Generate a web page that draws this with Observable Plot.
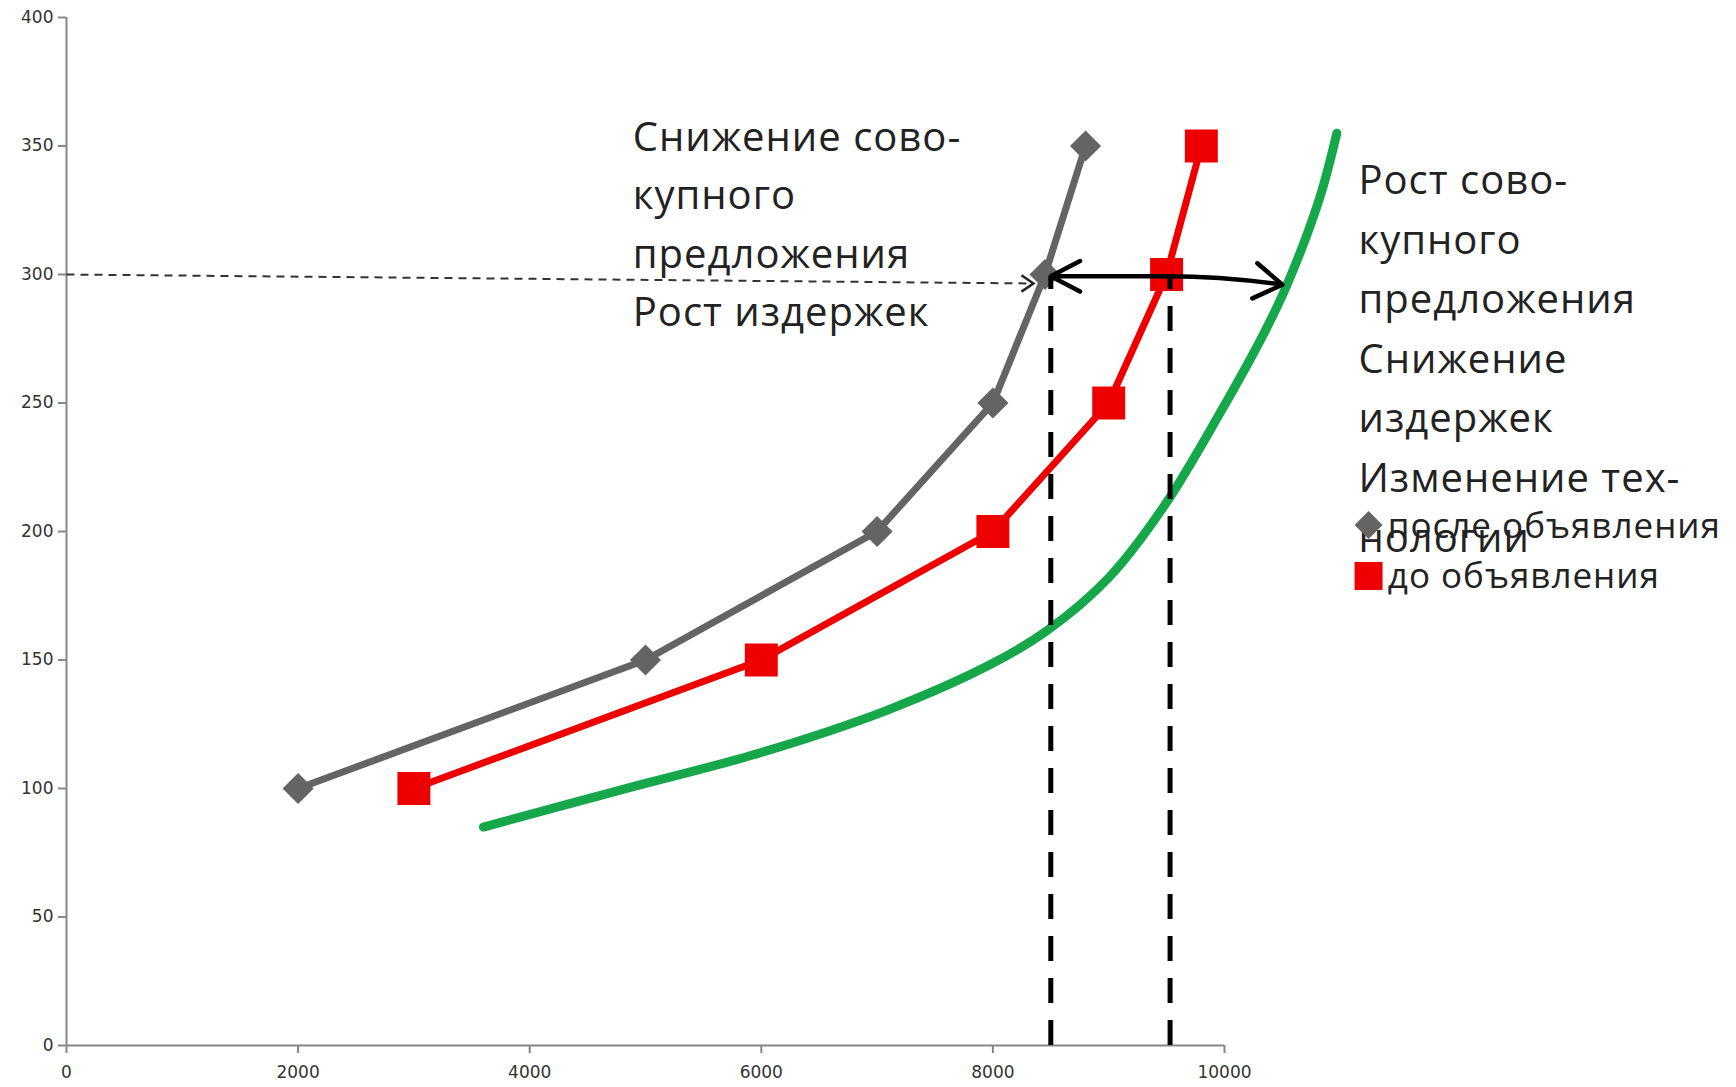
<!DOCTYPE html>
<html>
<head>
<meta charset="utf-8">
<script src="https://cdn.jsdelivr.net/npm/d3@7"></script>
<script src="https://cdn.jsdelivr.net/npm/@observablehq/plot@0.6"></script>
<style>
  html, body { margin: 0; padding: 0; background: #fff; }
  #chart { width: 1736px; height: 1087px; }
</style>
</head>
<body>
<div id="chart"></div>
<script>
// ---- data ----
const xTicks = [0, 2000, 4000, 6000, 8000, 10000];
const yTicks = [0, 50, 100, 150, 200, 250, 300, 350, 400];

const seriesNames = ["после объявления", "до объявления"];

// "после объявления" (grey diamonds)
const afterX = [2000, 5000, 7000, 8000, 8450, 8800];
const afterY = [100, 150, 200, 250, 300, 350];

// "до объявления" (red squares)
const beforeX = [3000, 6000, 8000, 9000, 9500, 9800];
const beforeY = [100, 150, 200, 250, 300, 350];

// green curve (new aggregate supply)
const greenX = [3600, 4790, 6000, 7090, 7990, 8470, 9000, 9480, 9960, 10345, 10540, 10820, 10970];
const greenY = [85, 99.5, 114, 130.5, 148.5, 161.5, 182, 210, 246, 277.5, 296, 329.5, 355];

// guides
const guideX = [8500, 9530];           // vertical dashed lines
const guideTop = 299;
const dashedFrom = [0, 300];           // horizontal dashed arrow start
const dashedTo = [8350, 296.5];        // horizontal dashed arrow tip
const shiftMid = [9500, 299.3];        // double arrow middle
const shiftLeft = [8500, 299.3];
const shiftRight = [10500, 296];

// texts
const leftNote = ["Снижение сово-", "купного", "предложения", "Рост издержек"];
const rightNote = ["Рост сово-", "купного", "предложения", "Снижение", "издержек", "Изменение тех-", "нологии"];
const leftNotePos = [4890, 280];
const rightNotePos = [11157, 192.2];
const legendMarkX = 11244;
const legendTextX = 11410;
const legendY = [202.5, 182.7];
const legendTextY = [197.5, 178];

// ---- build ----
const after = afterX.map((x, i) => ({x, y: afterY[i]}));
const before = beforeX.map((x, i) => ({x, y: beforeY[i]}));
const green = greenX.map((x, i) => ({x, y: greenY[i]}));

const GREY = "#646464", RED = "#ee0000", GREENC = "#17a74b", AXIS = "#868686";

const chevron = {
  draw(ctx, size) {
    const r = Math.sqrt(size / Math.PI);
    ctx.moveTo(-r, -0.68 * r);
    ctx.lineTo(0, 0);
    ctx.lineTo(-r, 0.68 * r);
  }
};

const chart = Plot.plot({
  width: 1736,
  height: 1087,
  marginLeft: 66,
  marginRight: 512,
  marginTop: 17,
  marginBottom: 42,
  style: {fontFamily: "DejaVu Sans", fontSize: "17px", background: "#fff", color: "#333", overflow: "visible"},
  x: {domain: [0, 10000]},
  y: {domain: [0, 400]},
  marks: [
    Plot.ruleY([0], {stroke: AXIS, strokeWidth: 2}),
    Plot.ruleX([0], {stroke: AXIS, strokeWidth: 2}),
    Plot.axisX({ticks: xTicks, tickFormat: d => String(d), tickSize: 8, tickPadding: 12, fontSize: 17, stroke: AXIS, strokeWidth: 2, fill: "#333", label: null}),
    Plot.axisY({ticks: yTicks, tickFormat: d => String(d), tickSize: 8, tickPadding: 5, fontSize: 17, stroke: AXIS, strokeWidth: 2, fill: "#333", label: null}),

    // green curve
    Plot.line(green, {x: "x", y: "y", stroke: GREENC, strokeWidth: 9, curve: "catmull-rom"}),

    // grey series
    Plot.line(after, {x: "x", y: "y", stroke: GREY, strokeWidth: 7}),
    Plot.dot(after, {x: "x", y: "y", symbol: "diamond2", r: 14, fill: GREY, stroke: "none"}),

    // red series
    Plot.line(before, {x: "x", y: "y", stroke: RED, strokeWidth: 7}),
    Plot.dot(before, {x: "x", y: "y", symbol: "square", r: 18.6, fill: RED, stroke: "none"}),

    // horizontal dashed arrow
    Plot.link([0], {x1: dashedFrom[0], y1: dashedFrom[1], x2: dashedTo[0], y2: dashedTo[1], stroke: "#333", strokeWidth: 2, strokeDasharray: "8,6"}),
    Plot.dot([0], {x: dashedTo[0], y: dashedTo[1], symbol: chevron, r: 12, fill: "none", stroke: "#222", strokeWidth: 2.5}),

    // vertical dashed guides
    Plot.ruleX(guideX, {x: d => d, y1: 0, y2: guideTop, stroke: "#000", strokeWidth: 5, strokeDasharray: "25,17"}),

    // double arrow
    Plot.arrow([0], {x1: shiftMid[0], y1: shiftMid[1], x2: shiftLeft[0], y2: shiftLeft[1], stroke: "#000", strokeWidth: 4.5, headLength: 11, headAngle: 55}),
    Plot.arrow([0], {x1: shiftMid[0], y1: shiftMid[1], x2: shiftRight[0], y2: shiftRight[1], stroke: "#000", strokeWidth: 4.5, headLength: 11, headAngle: 65, bend: 4}),

    // notes
    Plot.text([leftNote.join("\n")], {x: leftNotePos[0], y: leftNotePos[1], text: d => d, textAnchor: "start", lineAnchor: "bottom", lineHeight: 1.46, fontSize: 40, fontFamily: "Open Sans", fill: "#222"}),
    Plot.text([rightNote.join("\n")], {x: rightNotePos[0], y: rightNotePos[1], text: d => d, textAnchor: "start", lineAnchor: "bottom", lineHeight: 1.49, fontSize: 40, fontFamily: "Open Sans", fill: "#222"}),

    // legend
    Plot.dot([0], {x: legendMarkX, y: legendY[0], symbol: "diamond2", r: 12.6, fill: GREY, stroke: "none"}),
    Plot.dot([0], {x: legendMarkX, y: legendY[1], symbol: "square", r: 15.8, fill: RED, stroke: "none"}),
    Plot.text(seriesNames, {x: legendTextX, y: (d, i) => legendTextY[i], text: d => d, textAnchor: "start", lineAnchor: "bottom", fontSize: 35, fontFamily: "Open Sans", fill: "#222"})
  ]
});

d3.select(chart).selectAll('g[font-family="Open Sans"] text').attr("letter-spacing", "1px");

document.getElementById("chart").appendChild(chart);
</script>
</body>
</html>
